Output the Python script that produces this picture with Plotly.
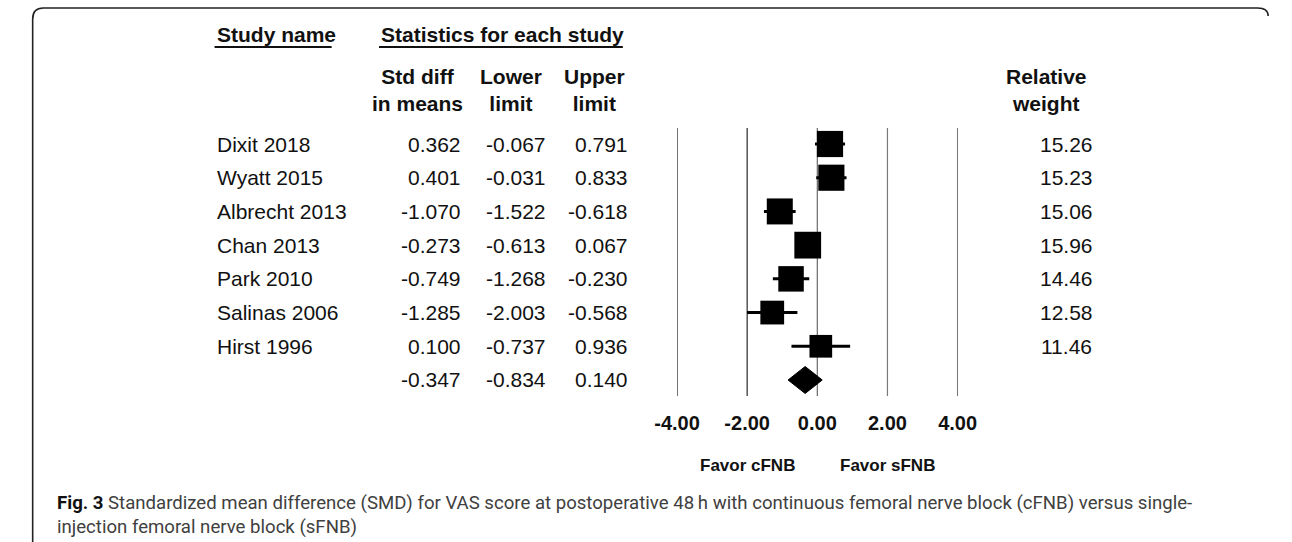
import plotly.graph_objects as go

# ---------------- data ----------------
studies = ["Dixit 2018", "Wyatt 2015", "Albrecht 2013", "Chan 2013", "Park 2010", "Salinas 2006", "Hirst 1996"]
smd = [0.362, 0.401, -1.070, -0.273, -0.749, -1.285, 0.100]
lower = [-0.067, -0.031, -1.522, -0.613, -1.268, -2.003, -0.737]
upper = [0.791, 0.833, -0.618, 0.067, -0.230, -0.568, 0.936]
weights = [15.26, 15.23, 15.06, 15.96, 14.46, 12.58, 11.46]
summary_smd = -0.347
summary_lower = -0.834
summary_upper = 0.140
tick_vals = [-4, -2, 0, 2, 4]
tick_text = ["-4.00", "-2.00", "0.00", "2.00", "4.00"]
favor_labels = ["Favor cFNB", "Favor sFNB"]
favor_pos = [-2, 2]

W, H = 1292, 542
FONT = "Arial, 'Liberation Sans', Helvetica, sans-serif"
CAP_FONT = "Roboto, sans-serif"


def px(x):
    return x / W


def py(y):
    return 1 - y / H


n = len(studies)
rows = list(range(n))
sum_row = n

fig = go.Figure()

# whiskers + squares
fig.add_trace(go.Scatter(
    x=smd, y=rows, mode="markers",
    marker=dict(symbol="square", color="black", opacity=1,
                size=[6.7 * w ** 0.5 for w in weights], line=dict(width=0)),
    error_x=dict(type="data", symmetric=False,
                 array=[u - e for u, e in zip(upper, smd)],
                 arrayminus=[e - l for e, l in zip(smd, lower)],
                 color="black", thickness=3, width=0),
    cliponaxis=False, showlegend=False, hoverinfo="skip"))

# summary diamond
h = 0.4
fig.add_trace(go.Scatter(
    x=[summary_lower, summary_smd, summary_upper, summary_smd, summary_lower],
    y=[sum_row, sum_row - h, sum_row, sum_row + h, sum_row],
    mode="lines", fill="toself", fillcolor="black",
    line=dict(color="black", width=1), showlegend=False, hoverinfo="skip"))

# vertical reference lines
line_cols = {-4: "#1a1a1a", -2: "#2a2a2a", 0: "#6a6a6a", 2: "#7a7a7a", 4: "#1a1a1a"}
shapes = []
for v in tick_vals:
    shapes.append(dict(type="line", xref="x", yref="y domain", x0=v, x1=v, y0=0, y1=1,
                       line=dict(color=line_cols[v], width=1.2), layer="below"))

# header underlines
shapes.append(dict(type="line", xref="paper", yref="paper", x0=px(198), x1=px(319),
                   y0=py(47), y1=py(47), line=dict(color="#111", width=2)))
shapes.append(dict(type="line", xref="paper", yref="paper", x0=px(368), x1=px(620),
                   y0=py(47), y1=py(47), line=dict(color="#111", width=2)))

# rounded frame
path = (f"M {px(10)},{py(545)} L {px(10)},{py(19)} "
        f"Q {px(10)},{py(8)} {px(21)},{py(8)} L {px(1276)},{py(8)} "
        f"Q {px(1287)},{py(8)} {px(1287)},{py(16)}")
shapes.append(dict(type="path", xref="paper", yref="paper", path=path,
                   line=dict(color="#222", width=1.6)))

ann = []
txt = dict(family=FONT, size=21, color="#111")
for i, s in enumerate(studies):
    ann.append(dict(text=s, x=px(198), xref="paper", y=i, yref="y",
                    xanchor="left", yanchor="middle", showarrow=False, font=txt))
    for col_x, vals in ((455, smd), (543, lower), (627, upper)):
        ann.append(dict(text=f"{vals[i]:.3f}", x=px(col_x), xref="paper", y=i, yref="y",
                        xanchor="right", yanchor="middle", showarrow=False, font=txt))
    ann.append(dict(text=f"{weights[i]:.2f}", x=px(1079), xref="paper", y=i, yref="y",
                    xanchor="center", yanchor="middle", showarrow=False, font=txt))
for col_x, v in ((455, summary_smd), (543, summary_lower), (627, summary_upper)):
    ann.append(dict(text=f"{v:.3f}", x=px(col_x), xref="paper", y=sum_row, yref="y",
                    xanchor="right", yanchor="middle", showarrow=False, font=txt))

hdr = dict(family=FONT, size=21, color="#111")
ann.append(dict(text="<b>Study name</b>", x=px(198), y=py(34.5), xref="paper", yref="paper",
                xanchor="left", yanchor="middle", showarrow=False, font=hdr))
ann.append(dict(text="<b>Statistics for each study</b>", x=px(368), y=py(34.5), xref="paper",
                yref="paper", xanchor="left", yanchor="middle", showarrow=False, font=hdr))
for cx, t in ((408, "Std diff<br>in means"), (504, "Lower<br>limit"), (591, "Upper<br>limit"),
              (1058, "Relative<br>weight")):
    ann.append(dict(text=f"<b>{t}</b>", x=px(cx), y=py(89.5), xref="paper", yref="paper",
                    xanchor="center", yanchor="middle", align="center", showarrow=False, font=hdr))

for lab, pos in zip(favor_labels, favor_pos):
    ann.append(dict(text=f"<b>{lab}</b>", x=pos, xref="x", y=py(465), yref="paper",
                    xanchor="center", yanchor="middle", showarrow=False,
                    font=dict(family=FONT, size=17, color="#111")))

cap_font = dict(family=CAP_FONT, size=18.6, color="#404040")
ann.append(dict(text="<b><span style='color:#111'>Fig. 3</span></b> Standardized mean difference (SMD) for VAS score at postoperative 48\u2009h with continuous femoral nerve block (cFNB) versus single-",
                x=px(33), y=py(503), xref="paper", yref="paper", xanchor="left", yanchor="middle",
                showarrow=False, font=cap_font))
ann.append(dict(text="injection femoral nerve block (sFNB)",
                x=px(33), y=py(527), xref="paper", yref="paper", xanchor="left", yanchor="middle",
                showarrow=False, font=cap_font))

fig.update_layout(
    width=W, height=H, margin=dict(l=0, r=0, t=0, b=0),
    paper_bgcolor="white", plot_bgcolor="white",
    xaxis=dict(domain=[px(676), px(966)], range=[-4, 4], tickvals=tick_vals, ticktext=tick_text,
               ticks="", showgrid=False, zeroline=False, showline=False,
               tickfont=dict(family=FONT, size=20, color="#111", weight="bold"),
               ticklabelstandoff=13, fixedrange=True),
    yaxis=dict(domain=[py(396), py(128)], range=[sum_row + 0.475, -0.475], visible=False,
               fixedrange=True),
    shapes=shapes, annotations=ann, showlegend=False,
)

fig.write_html("out.html")
